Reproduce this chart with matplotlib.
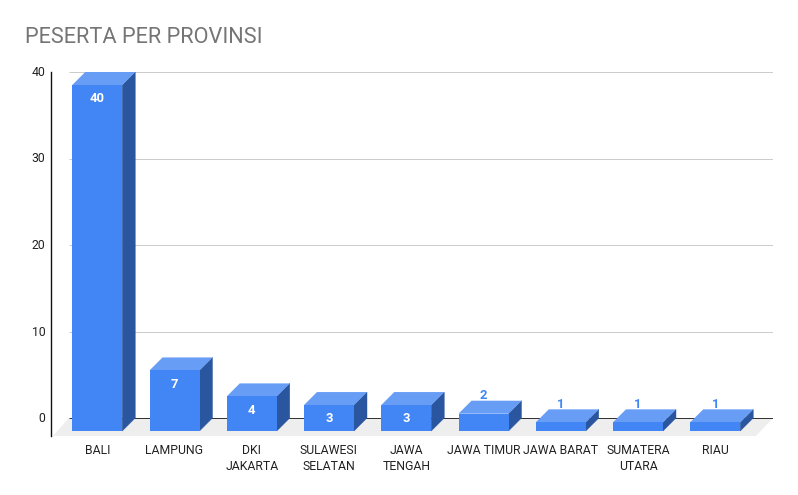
import matplotlib
matplotlib.use('Agg')
import matplotlib.pyplot as plt
from matplotlib.patches import Polygon
from matplotlib.transforms import ScaledTranslation

provinces = ['BALI', 'LAMPUNG', 'DKI\nJAKARTA', 'SULAWESI\nSELATAN', 'JAWA\nTENGAH',
             'JAWA TIMUR', 'JAWA BARAT', 'SUMATERA\nUTARA', 'RIAU']
peserta = [40, 7, 4, 3, 3, 2, 1, 1, 1]
y_ticks = [0, 10, 20, 30, 40]

W, H = 798, 495
# pixel scale of the chart
px_per_slot = 77.25
px_per_unit = 8.65
first_px = 97.25
depth_x = 13 / px_per_slot
depth_y = 13 / px_per_unit
bar_w = 50 / px_per_slot

plt.rcParams['font.family'] = ['Roboto', 'DejaVu Sans']

fig = plt.figure(figsize=(W / 100, H / 100), dpi=100)
ax = fig.add_axes([51 / W, 1 - 436 / H, (773 - 51) / W, (436 - 72) / H])
ax.set_xlim((51 - first_px) / px_per_slot, (773 - first_px) / px_per_slot)
ax.set_ylim(-18 / px_per_unit, 40)

x0, x1 = ax.get_xlim()
left_back = x0 + 18 / px_per_slot

# floor of the 3d box
ax.add_patch(Polygon([[x0 + 2 / px_per_slot, -18 / px_per_unit], [left_back, 0], [x1, 0],
                      [x1 - 17 / px_per_slot, -18 / px_per_unit]],
                     closed=True, fc='#eeeeee', ec='none', zorder=1))

for t in y_ticks:
    ax.plot([left_back, x1], [t, t], color='#333333' if t == 0 else '#cccccc',
            lw=0.72, zorder=2, solid_capstyle='butt')

for i, v in enumerate(peserta):
    l, r = i - bar_w / 2, i + bar_w / 2
    bottom = -depth_y
    top = v - depth_y
    # side goes first with a thin edge so no light seam shows next to the front
    ax.add_patch(Polygon([[r, bottom], [r + depth_x, 0], [r + depth_x, v], [r, top]],
                         closed=True, fc='#2a56a0', ec='#2a56a0', lw=0.3, zorder=3))
    ax.add_patch(Polygon([[l, top], [l + depth_x, v], [r + depth_x, v], [r, top]],
                         closed=True, fc='#689df6', ec='none', zorder=3))
    ax.bar(i, v, width=bar_w, bottom=bottom, color='#4285f4', zorder=4)
    if v > 2:
        ax.text(i, v - 2 * depth_y - 0.1, str(v), color='white', fontsize=9.4, fontweight='bold',
                ha='center', va='center', zorder=5)
    else:
        ax.text(i, v + 0.55, str(v), color='#4285f4', fontsize=9.4, fontweight='bold',
                ha='center', va='center', zorder=5)

ax.set_xticks(range(len(provinces)))
ax.set_xticklabels(provinces, fontsize=8.8, color='#222222', linespacing=1.25, va='top')
ax.set_yticks(y_ticks)
ax.set_yticklabels([str(t) for t in y_ticks], fontsize=8.8, color='#222222', va='center_baseline')
ax.tick_params(axis='both', length=0)
ax.tick_params(axis='x', pad=6)
ax.tick_params(axis='y', pad=4)

# y labels sit one pixel above their gridline
up_1px = ScaledTranslation(0, 1 / 100, fig.dpi_scale_trans)
for lab in ax.get_yticklabels():
    lab.set_transform(lab.get_transform() + up_1px)

for s in ['top', 'right', 'bottom']:
    ax.spines[s].set_visible(False)
ax.spines['left'].set_color('#111111')
ax.spines['left'].set_linewidth(1)

fig.text(25 / W, 1 - 37.5 / H, 'PESERTA PER PROVINSI', fontsize=15.7, color='#757575',
         ha='left', va='center')

fig.savefig('out.png', dpi=100)
